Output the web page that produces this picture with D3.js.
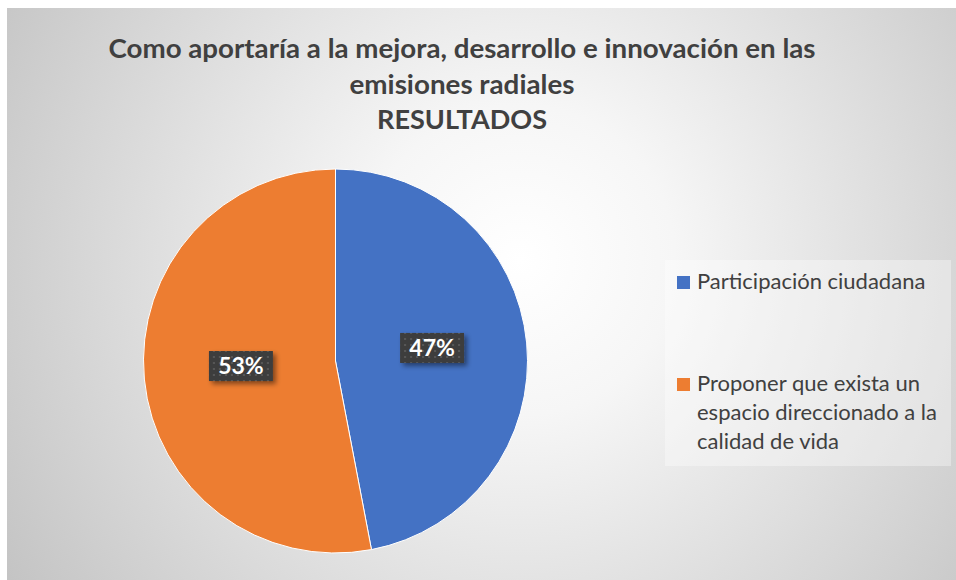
<!DOCTYPE html>
<html>
<head>
<meta charset="utf-8">
<script src="https://cdn.jsdelivr.net/npm/d3@7"></script>
<style>
  html, body { margin: 0; padding: 0; background: #ffffff; }
  svg { display: block; }
</style>
</head>
<body>
<script>
// ---- data ----
const categories = ["Participación ciudadana", "Proponer que exista un espacio direccionado a la calidad de vida"];
const values = [47, 53];
const valueLabels = ["47%", "53%"];
const legendLines = [["Participación ciudadana"], ["Proponer que exista un", "espacio direccionado a la", "calidad de vida"]];
const colors = ["#4472C4", "#ED7D31"];
const titleLines = ["Como aportaría a la mejora, desarrollo e innovación en las", "emisiones radiales", "RESULTADOS"];

const W = 956, H = 580;
const svg = d3.select("body").append("svg").attr("width", W).attr("height", H);
const defs = svg.append("defs");

// background radial gradient
const rg = defs.append("radialGradient").attr("id", "bg")
  .attr("gradientUnits", "userSpaceOnUse")
  .attr("cx", 520).attr("cy", 260).attr("r", 620);
rg.append("stop").attr("offset", "0%").attr("stop-color", "#ffffff");
rg.append("stop").attr("offset", "25%").attr("stop-color", "#f6f6f6");
rg.append("stop").attr("offset", "100%").attr("stop-color", "#c2c2c2");

// label pattern
const pat = defs.append("pattern").attr("id", "dots")
  .attr("patternUnits", "userSpaceOnUse").attr("width", 6).attr("height", 6);
pat.append("rect").attr("width", 6).attr("height", 6).attr("fill", "#3d3d3d");
pat.append("rect").attr("x", 2).attr("y", 2).attr("width", 2).attr("height", 2).attr("fill", "#575757");

const shadow = defs.append("filter").attr("id", "shadow").attr("x", "-30%").attr("y", "-30%").attr("width", "170%").attr("height", "190%");
shadow.append("feDropShadow").attr("dx", 3).attr("dy", 3).attr("stdDeviation", 2.5).attr("flood-color", "#000").attr("flood-opacity", 0.45);

// chart area
svg.append("rect").attr("x", 7).attr("y", 8).attr("width", W - 7).attr("height", H - 8).attr("fill", "url(#bg)");

// title
const title = svg.append("text")
  .attr("text-anchor", "middle")
  .attr("font-family", "Lato, 'Open Sans', sans-serif")
  .attr("font-weight", "bold")
  .attr("font-size", 26.5)
  .attr("fill", "#404040");
const titleY = [58, 94, 129];
const titleW = [707, 225, 170];
titleLines.forEach((t, i) => {
  title.append("tspan").attr("x", 462).attr("y", titleY[i])
    .attr("textLength", titleW[i]).attr("lengthAdjust", "spacingAndGlyphs").text(t);
});

// pie
const cx = 335.5, cy = 361, r = 192;
const pie = d3.pie().sort(null).value(d => d)(values);
const arc = d3.arc().innerRadius(0).outerRadius(r);
const g = svg.append("g").attr("transform", `translate(${cx},${cy})`);
g.selectAll("path").data(pie).join("path")
  .attr("d", arc)
  .attr("fill", (d, i) => colors[i])
  .attr("stroke", "#ffffff").attr("stroke-width", 1);

// data labels
const labelArc = d3.arc().innerRadius(0).outerRadius(r);
const lab = g.selectAll("g.lab").data(pie).join("g").attr("class", "lab")
  .attr("transform", d => { const c = labelArc.centroid(d); return `translate(${c[0] + 1},${c[1] - 4})`; });
lab.append("rect")
  .attr("x", -32).attr("y", -15).attr("width", 64).attr("height", 30)
  .attr("fill", "url(#dots)")
  .attr("filter", "url(#shadow)");
lab.append("text")
  .attr("text-anchor", "middle")
  .attr("dy", "0.36em")
  .attr("font-family", "Lato, 'Open Sans', sans-serif")
  .attr("font-weight", "bold")
  .attr("font-size", 23)
  .attr("fill", "#ffffff")
  .text((d, i) => valueLabels[i]);

// legend
svg.append("rect").attr("x", 665).attr("y", 260).attr("width", 286).attr("height", 206)
  .attr("fill", "#ffffff").attr("fill-opacity", 0.35);
const legY = [276, 378];
const leg = svg.append("g");
categories.forEach((c, i) => {
  leg.append("rect").attr("x", 677).attr("y", legY[i]).attr("width", 13).attr("height", 13).attr("fill", colors[i]);
  const t = leg.append("text")
    .attr("font-family", "Lato, 'Open Sans', sans-serif")
    .attr("font-size", 22)
    .attr("fill", "#404040");
  legendLines[i].forEach((line, j) => {
    t.append("tspan").attr("x", 697).attr("y", legY[i] + 13 + j * 29).text(line);
  });
});
</script>
</body>
</html>
